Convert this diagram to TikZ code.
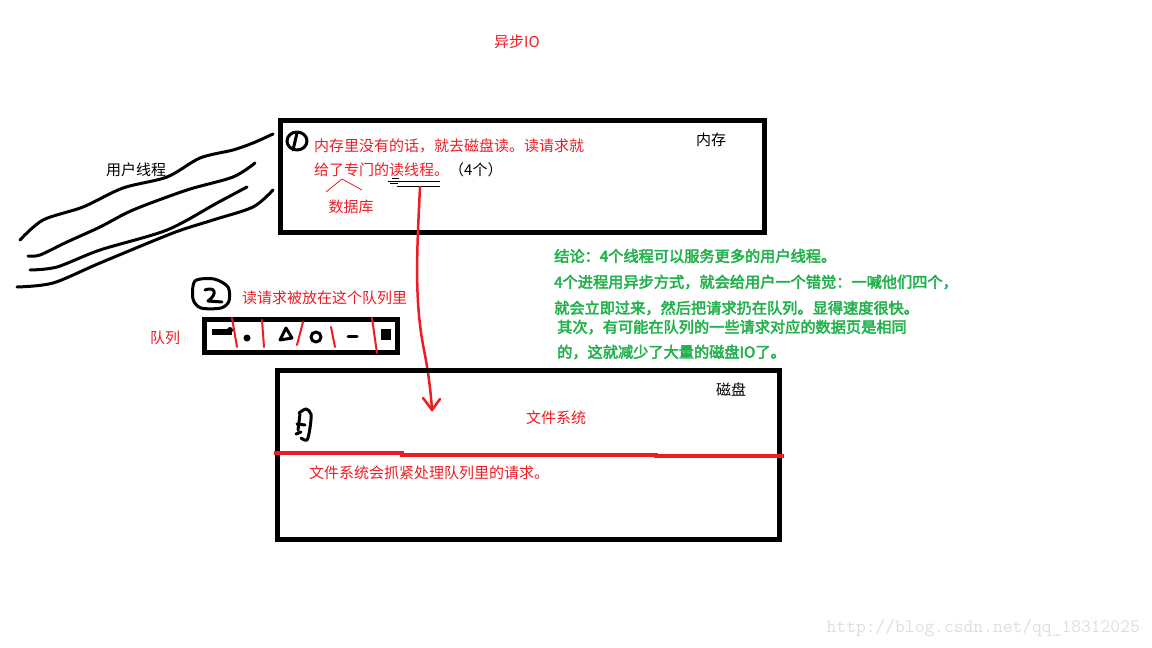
\documentclass[tikz,border=0pt]{standalone}
\usepackage{fontspec}
\setmainfont{Noto Sans CJK SC}
\newfontfamily\greenfont[FakeBold=3]{Noto Sans CJK SC}
\definecolor{paintred}{RGB}{237,28,36}
\definecolor{paintgreen}{RGB}{34,177,76}
\definecolor{markgray}{RGB}{222,222,218}

\begin{document}
\begin{tikzpicture}[x=1pt,y=1pt,yscale=-1,xscale=1,
  txt/.style={inner sep=0pt,font=\fontsize{15}{17}\selectfont},
  redtxt/.style={txt,text=paintred},
  greentxt/.style={txt,text=paintgreen,anchor=west,font=\fontsize{15.2}{17}\selectfont\greenfont},
  boxline/.style={line width=5pt},
  scribble/.style={line width=3pt,line cap=round,line join=round},
  redpen/.style={color=paintred,line width=2.5pt,line cap=round,line join=round}]
\path[use as bounding box] (0,0) rectangle (1152,648);

%Title
\node[redtxt] (title) at (517,42) {异步IO};

%User threads
\draw[scribble] plot[smooth] coordinates {(20,240) (43,220) (83,207) (123,188) (167,177) (200,158) (233,150) (253,143) (273,134)};
\draw[scribble] plot[smooth] coordinates {(28,256) (40,255) (67,242) (100,227) (133,210) (187,190) (233,177) (255,163)};
\draw[scribble] plot[smooth] coordinates {(30,270) (57,267) (100,250) (167,230) (217,203) (247,187)};
\draw[scribble] plot[smooth] coordinates {(17,287) (53,283) (100,263) (173,233) (213,220) (253,207) (273,190)};
\node[txt] (user) at (136,170) {用户线程};

%Memory box
\draw[boxline] (280,120.5) rectangle (764.5,232.5);
\node[txt] (mem) at (711,140) {内存};

%Mark 1
\draw[scribble] (297,141) ellipse [x radius=10, y radius=9];
\draw[scribble] (297,133) -- (293,150);

%Read request text
\node[redtxt,anchor=west] (memline1) at (314,146) {内存里没有的话，就去磁盘读。读请求就};
\node[redtxt,anchor=west] (memline2) at (314,170) {给了专门的读线程。\textcolor{black}{（4个）}};

%Database caret
\coordinate (caretl) at (326,192);
\coordinate (caretm) at (342,179);
\coordinate (caretr) at (362,190);
\draw[color=paintred,line width=0.8pt] (caretl) -- (caretm) -- (caretr);
\node[redtxt] (db) at (351,207) {数据库};

%Underline
\draw[line width=1pt] (388,181) -- (440,181) (397,186) -- (440,186);
\draw[line width=1pt] (392,178) -- (399,178) (390,183) -- (398,183);

%Red arrow to file system
\coordinate (rt) at (420,187);
\coordinate (fs) at (432,410);
\draw[redpen] (rt) .. controls (417,250) and (414,300) .. (424,350) .. controls (429,375) and (431,395) .. (fs);
\draw[redpen] (423,398) -- (fs) -- (440,399);

%Mark 2
\draw[scribble] plot[smooth cycle] coordinates {(195,281) (214,279) (228,287) (229,301) (221,308) (201,308) (193,299)};
\draw[scribble] (205,290) .. controls (215,286) and (218,294) .. (208,301) -- (222,302);
\node[redtxt,anchor=west] (queuenote) at (242,298) {读请求被放在这个队列里};

%Queue
\node[redtxt] (queue) at (165,338) {队列};
\draw[boxline] (204.5,319.5) rectangle (397.5,352.5);
\fill (212,329) rectangle (232,335);
\fill (230,330) circle (3);
\fill (247,338) circle (3.5);
\draw[scribble] (280,340) -- (286,328) -- (292,338) -- cycle;
\draw[scribble] (316,337) circle (5);
\draw[scribble] (348,336) -- (357,336);
\fill (381,329) rectangle (391,340);
\foreach \xa/\ya/\xb/\yb in {232/318/237/347, 262/320/264/347, 303/322/297/345, 331/327/335/347, 372/318/377/353}
  \draw[redpen,line width=2pt] (\xa,\ya) -- (\xb,\yb);

%Conclusion
\node[greentxt] (conc1) at (554,256) {结论：4个线程可以服务更多的用户线程。};
\node[greentxt] (conc2) at (554,282) {4个进程用异步方式，就会给用户一个错觉：一喊他们四个，};
\node[greentxt] (conc3) at (554,308) {就会立即过来，然后把请求扔在队列。显得速度很快。};
\node[greentxt] (conc4) at (557,327) {其次，有可能在队列的一些请求对应的数据页是相同};
\node[greentxt] (conc5) at (557,352) {的，这就减少了大量的磁盘IO了。};

%Disk box
\draw[boxline] (277.5,370.5) rectangle (779.5,539.5);
\node[txt] (disk) at (731,390) {磁盘};
\node[redtxt] (fsys) at (556,418) {文件系统};

%Mark 3
\draw[scribble] plot[smooth] coordinates {(299,413) (306,409) (311,414) (310,428) (307,440) (301,438)};
\draw[scribble] (300,414) -- (298,430) (297,424) -- (305,425) (301,432) -- (296,434);

%Divider
\draw[color=paintred,line width=4pt] (274,453) -- (402,453) -- (402,454.5) -- (656,454.5) -- (656,456) -- (784,456);
\node[redtxt,anchor=west] (fsnote) at (309,473) {文件系统会抓紧处理队列里的请求。};

%Watermark
\node[inner sep=0pt,text=markgray,anchor=east,font=\fontsize{19}{20}\ttfamily] (mark) at (1140,628) {http://blog.csdn.net/qq\_18312025};

\end{tikzpicture}
\end{document}
